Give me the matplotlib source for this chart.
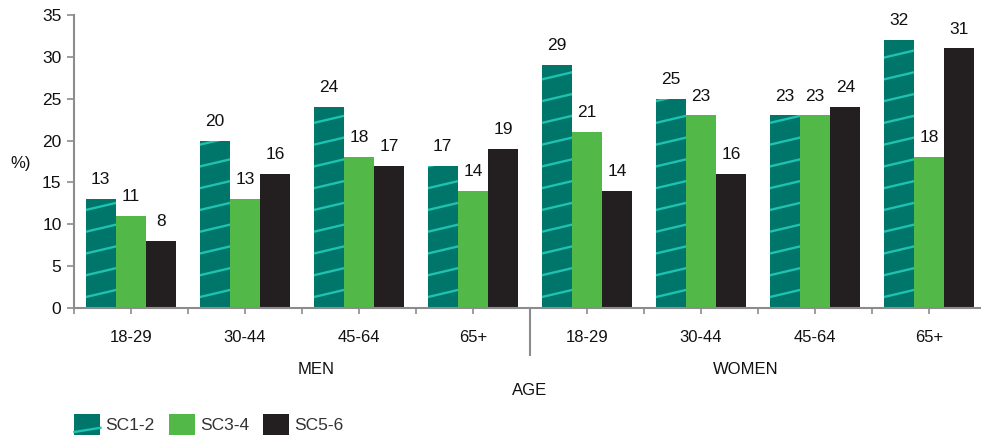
import matplotlib.pyplot as plt
import numpy as np
from matplotlib.patches import Rectangle
from matplotlib.legend_handler import HandlerPatch
from matplotlib.lines import Line2D

plt.rcParams['font.family'] = ['Liberation Sans', 'DejaVu Sans']

# data
age_groups = ["18-29", "30-44", "45-64", "65+", "18-29", "30-44", "45-64", "65+"]
sexes = ["MEN", "WOMEN"]
series = ["SC1-2", "SC3-4", "SC5-6"]
sc12 = [13, 20, 24, 17, 29, 25, 23, 32]
sc34 = [11, 13, 18, 14, 21, 23, 23, 18]
sc56 = [8, 16, 17, 19, 14, 16, 24, 31]

teal = "#00756A"
stripe = "#1EC2B0"
green = "#52B848"
black = "#231F20"
gray = "#8C8C8C"
colors = [teal, green, black]

fig = plt.figure(figsize=(9.81, 4.36), dpi=100)
ax = fig.add_axes([74 / 981, 1 - 308 / 436, 912 / 981, 293 / 436])

x = np.arange(len(age_groups))
w = 0.266
for i, (vals, c) in enumerate(zip([sc12, sc34, sc56], colors)):
    bars = ax.bar(x + (i - 1) * w, vals, width=w, color=c, linewidth=0, zorder=2)
    for b, v in zip(bars, vals):
        ax.annotate(str(v), (b.get_x() + b.get_width() / 2, v), xytext=(0, 14),
                    textcoords="offset points", ha="center", va="center",
                    fontsize=12.5, color="#111111")
    if i == 0:
        # diagonal light stripes on SC1-2 bars
        for b in bars:
            x0, x1 = b.get_x(), b.get_x() + b.get_width()
            for y0 in np.arange(1.3, 36, 2.6):
                ln = Line2D([x0, x1], [y0, y0 + 0.85], color=stripe, lw=1.7, zorder=3)
                ax.add_line(ln)
                ln.set_clip_path(b)

ax.set_xlim(-0.5, 7.5)
ax.set_ylim(0, 35)
ax.set_yticks(range(0, 36, 5))
ax.tick_params(axis="y", labelsize=12.5, color=gray, length=5, width=1.2, pad=4,
               labelcolor="#111111")
ax.set_xticks(np.arange(-0.5, 7.6, 0.5))
ax.set_xticklabels([])
ax.tick_params(axis="x", color=gray, length=4, width=1.2)
for s in ["top", "right"]:
    ax.spines[s].set_visible(False)
for s in ["left", "bottom"]:
    ax.spines[s].set_color(gray)
    ax.spines[s].set_linewidth(1.5)

for xi, lab in zip(x, age_groups):
    ax.text(xi, -3.5, lab, ha="center", va="center", fontsize=12, color="#111111")
ax.text(1.62, -7.4, sexes[0], ha="center", va="center", fontsize=12, color="#111111")
ax.text(5.39, -7.4, sexes[1], ha="center", va="center", fontsize=12, color="#111111")
ax.text(3.5, -9.8, "AGE", ha="center", va="center", fontsize=12, color="#111111")
ax.plot([3.5, 3.5], [0, -5.6], color=gray, lw=1.5, clip_on=False)

fig.text(21 / 981, 1 - 163 / 436, "%)", ha="center", va="center", fontsize=12,
         color="#111111")


class StripeHandler(HandlerPatch):
    def create_artists(self, legend, orig_handle, xdescent, ydescent, width,
                       height, fontsize, trans):
        r = Rectangle((-xdescent, -ydescent), width, height, facecolor=teal,
                      linewidth=0, transform=trans)
        ln = Line2D([-xdescent, -xdescent + width],
                    [-ydescent + height * 0.15, -ydescent + height * 0.35],
                    color=stripe, lw=1.7, transform=trans)
        return [r, ln]


handles = [Rectangle((0, 0), 1, 1, facecolor=c, linewidth=0) for c in colors]
fig.legend(handles, series, loc="lower left", bbox_to_anchor=(64 / 981, -0.022),
           ncol=3, frameon=False, fontsize=12.5, handlelength=1.5, handleheight=1.5,
           handletextpad=0.3, columnspacing=0.8, borderpad=0.1,
           labelcolor="#333333", handler_map={handles[0]: StripeHandler()})

fig.savefig("out.png", dpi=100)
